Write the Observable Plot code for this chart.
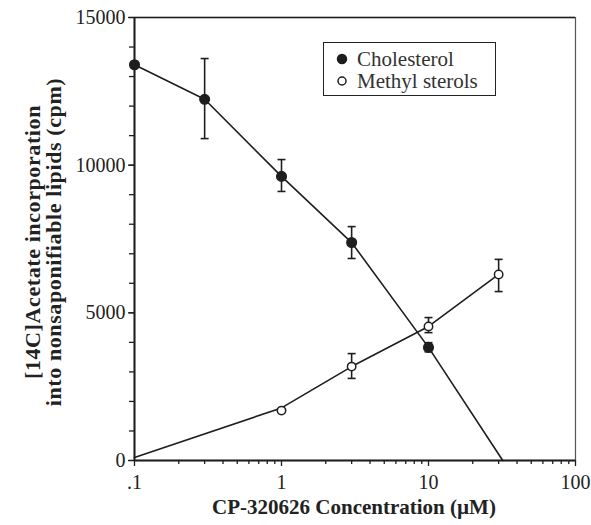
<!DOCTYPE html>
<html><head><meta charset="utf-8">
<script src="https://cdn.jsdelivr.net/npm/d3@7"></script>
<script src="https://cdn.jsdelivr.net/npm/@observablehq/plot@0.6"></script>
<style>
body{margin:0;background:#fff}
#chart{position:relative;width:591px;height:525px;font-family:"Liberation Serif",serif;color:#222}
#legend{position:absolute;left:323px;top:42px;width:171px;height:52px;border:1.5px solid #222;background:#fff;font-size:21px;color:#333}
#legend .row{display:flex;align-items:center;height:22px;margin-left:12px}
#legend .row:first-child{margin-top:5px}
#legend svg{margin-right:9px}
</style>
</head><body><div id="chart"></div>
<script>
// Cholesterol (filled circles)
const cholConc = [0.1, 0.3, 1, 3, 10];
const cholVal = [13400, 12230, 9620, 7380, 3830];
const cholLo = [null, 10900, 9110, 6840, 3680];
const cholHi = [null, 13610, 10190, 7920, 3990];
const cholLineX = [0.1, 0.3, 1, 3, 10, 32];
const cholLineY = [13400, 12230, 9620, 7380, 3830, 0];
// Methyl sterols (open circles)
const methConc = [1, 3, 10, 30];
const methVal = [1690, 3180, 4540, 6300];
const methLo = [null, 2780, 4330, 5720];
const methHi = [null, 3620, 4840, 6810];
const methLineX = [0.1, 1, 3, 10, 30];
const methLineY = [100, 1780, 3180, 4540, 6300];
// axes
const xTicks = [0.1, 1, 10, 100];
const xTickLabels = [".1", "1", "10", "100"];
const xMinor = [0.2,0.3,0.4,0.5,0.6,0.7,0.8,0.9,2,3,4,5,6,7,8,9,20,30,40,50,60,70,80,90];
const yTicks = [0, 5000, 10000, 15000];
const yMinor = d3.range(0, 15001, 1000);
const seriesNames = ["Cholesterol", "Methyl sterols"];
const xLabel = "CP-320626 Concentration (\u00b5M)";
const yLabel = ["[14C]Acetate incorporation", "into nonsaponifiable lipids (cpm)"];

const chol = cholConc.map((x, i) => ({x, y: cholVal[i], lo: cholLo[i], hi: cholHi[i]}));
const meth = methConc.map((x, i) => ({x, y: methVal[i], lo: methLo[i], hi: methHi[i]}));
const cholLine = cholLineX.map((x, i) => ({x, y: cholLineY[i]}));
const methLine = methLineX.map((x, i) => ({x, y: methLineY[i]}));
const cholErr = chol.filter(d => d.lo != null);
const methErr = meth.filter(d => d.lo != null);

const cap = {draw(ctx) { ctx.moveTo(-4, 0); ctx.lineTo(4, 0); }};
const ink = "#1e1e1e";

const plot = Plot.plot({
  width: 591, height: 525,
  marginLeft: 134, marginRight: 16, marginTop: 17, marginBottom: 65,
  style: {fontFamily: "Liberation Serif, serif", fontSize: "20px", color: "#222", background: "#fff"},
  x: {type: "log", domain: [0.1, 100]},
  y: {domain: [0, 15000]},
  marks: [
    Plot.frame({stroke: "#555", strokeWidth: 1.2}),
    Plot.axisY(yMinor, {tickSize: 5, tickFormat: () => "", label: null, stroke: ink, strokeWidth: 1.3}),
    Plot.axisY(yTicks, {tickSize: 6, tickPadding: 3, label: null, stroke: ink, strokeWidth: 1.3, fill: "#222",
      tickFormat: d3.format("d")}),
    Plot.axisX(xMinor, {tickSize: 4, tickFormat: () => "", label: null, stroke: ink, strokeWidth: 1.3}),
    Plot.axisX(xTicks, {tickSize: 6, tickPadding: 8, label: null, stroke: ink, strokeWidth: 1.3, fill: "#222",
      tickFormat: (d) => xTickLabels[xTicks.indexOf(d)]}),
    Plot.ruleX([0.1], {stroke: ink, strokeWidth: 2}),
    Plot.ruleY([0], {stroke: ink, strokeWidth: 2}),
    Plot.ruleY([15000], {stroke: ink, strokeWidth: 1.5}),
    Plot.line(cholLine, {x: "x", y: "y", stroke: ink, strokeWidth: 1.6}),
    Plot.line(methLine, {x: "x", y: "y", stroke: ink, strokeWidth: 1.6}),
    Plot.ruleX(cholErr, {x: "x", y1: "lo", y2: "hi", stroke: ink, strokeWidth: 1.6}),
    Plot.ruleX(methErr, {x: "x", y1: "lo", y2: "hi", stroke: ink, strokeWidth: 1.6}),
    Plot.dot(cholErr, {x: "x", y: "lo", symbol: cap, stroke: ink, strokeWidth: 1.6}),
    Plot.dot(cholErr, {x: "x", y: "hi", symbol: cap, stroke: ink, strokeWidth: 1.6}),
    Plot.dot(methErr, {x: "x", y: "lo", symbol: cap, stroke: ink, strokeWidth: 1.6}),
    Plot.dot(methErr, {x: "x", y: "hi", symbol: cap, stroke: ink, strokeWidth: 1.6}),
    Plot.dot(chol, {x: "x", y: "y", r: 4.8, fill: ink, stroke: ink}),
    Plot.dot(meth, {x: "x", y: "y", r: 4.2, fill: "#fff", stroke: ink, strokeWidth: 1.5})
  ]
});

const chart = document.getElementById("chart");
chart.appendChild(plot);
const svg = d3.select(plot);
svg.append("text").attr("x", 354).attr("y", 514).attr("text-anchor", "middle")
  .attr("font-weight", "bold").attr("font-size", 21).attr("fill", "#222").text(xLabel);
const yl = svg.append("text").attr("transform", "translate(40,242) rotate(-90)")
  .attr("text-anchor", "middle").attr("font-weight", "bold").attr("font-size", 22)
  .attr("letter-spacing", "0.6px").attr("fill", "#222");
yl.append("tspan").attr("x", 0).attr("dy", 0).text(yLabel[0]);
yl.append("tspan").attr("x", 0).attr("dy", 21).text(yLabel[1]);

const legend = document.createElement("div");
legend.id = "legend";
legend.innerHTML = seriesNames.map((n, i) =>
  `<div class="row"><svg width="12" height="12"><circle cx="6" cy="6" r="${i ? 4 : 4.5}" fill="${i ? '#fff' : ink}" stroke="${ink}" stroke-width="1.5"/></svg><span>${n}</span></div>`).join("");
chart.appendChild(legend);
</script></body></html>
